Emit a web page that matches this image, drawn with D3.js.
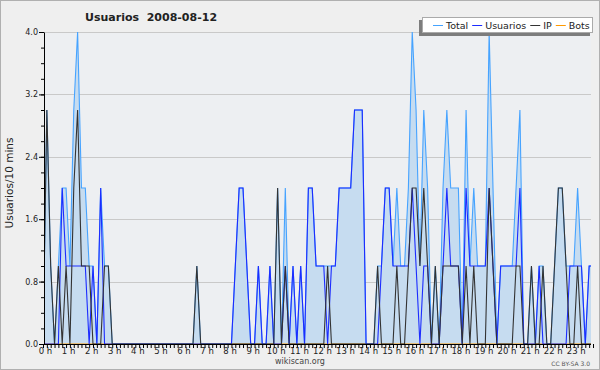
<!DOCTYPE html>
<html>
<head>
<meta charset="utf-8">
<script src="https://cdn.jsdelivr.net/npm/d3@7"></script>
<style>
body { margin: 0; background: #efefef; }
text { font-family: "DejaVu Sans", sans-serif; }
</style>
</head>
<body>
<svg id="chart" width="600" height="370"></svg>
<script>
// 10 minute slots, 0h00 .. 23h50
const hourLabels = ['0 h', '1 h', '2 h', '3 h', '4 h', '5 h', '6 h', '7 h', '8 h', '9 h', '10 h', '11 h',
  '12 h', '13 h', '14 h', '15 h', '16 h', '17 h', '18 h', '19 h', '20 h', '21 h', '22 h', '23 h']
const yTicks = [0, 0.8, 1.6, 2.4, 3.2, 4.0]

const total = [
  0, 3, 1, 0, 1, 2, 2, 1, 3, 4, 2, 2,
  1, 1, 0, 2, 1, 1, 0, 0, 0, 0, 0, 0,
  0, 0, 0, 0, 0, 0, 0, 0, 0, 0, 0, 0,
  0, 0, 0, 0, 1, 0, 0, 0, 0, 0, 0, 0,
  0, 0, 1, 2, 2, 1, 0, 0, 1, 0, 0, 1,
  0, 2, 0, 2, 0, 1, 0, 1, 0, 2, 2, 1,
  1, 1, 1, 1, 1, 2, 2, 2, 2, 3, 3, 3,
  0, 0, 0, 1, 1, 2, 2, 1, 2, 1, 1, 2,
  4, 3, 1, 3, 2, 0, 1, 0, 2, 3, 2, 2,
  2, 0, 3, 1, 2, 1, 1, 1, 4, 2, 0, 1,
  1, 1, 1, 2, 3, 0, 0, 1, 0, 1, 1, 0,
  0, 1, 2, 2, 1, 1, 1, 2, 1, 0, 1, 1
]
const usuarios = [
  0, 0, 0, 0, 0, 2, 1, 1, 1, 1, 1, 1,
  0, 1, 0, 2, 0, 0, 0, 0, 0, 0, 0, 0,
  0, 0, 0, 0, 0, 0, 0, 0, 0, 0, 0, 0,
  0, 0, 0, 0, 0, 0, 0, 0, 0, 0, 0, 0,
  0, 0, 1, 2, 2, 1, 0, 0, 1, 0, 0, 1,
  0, 0, 0, 1, 0, 1, 0, 1, 0, 2, 2, 1,
  1, 1, 0, 1, 1, 2, 2, 2, 2, 3, 3, 3,
  0, 0, 0, 0, 1, 2, 2, 1, 1, 1, 1, 1,
  2, 1, 0, 1, 1, 0, 0, 0, 1, 2, 1, 1,
  1, 0, 2, 1, 1, 1, 1, 1, 2, 1, 0, 1,
  1, 1, 1, 1, 2, 0, 0, 0, 0, 1, 0, 0,
  0, 0, 0, 0, 0, 1, 1, 1, 1, 0, 1, 1
]
const ip = [
  0, 3, 1, 0, 1, 0, 1, 0, 2, 3, 1, 1,
  1, 0, 0, 0, 1, 1, 0, 0, 0, 0, 0, 0,
  0, 0, 0, 0, 0, 0, 0, 0, 0, 0, 0, 0,
  0, 0, 0, 0, 1, 0, 0, 0, 0, 0, 0, 0,
  0, 0, 0, 0, 0, 0, 0, 0, 0, 0, 0, 0,
  0, 2, 0, 1, 0, 0, 0, 0, 0, 0, 0, 0,
  0, 0, 1, 0, 0, 0, 0, 0, 0, 0, 0, 0,
  0, 0, 0, 1, 0, 0, 0, 0, 1, 0, 0, 1,
  2, 2, 1, 2, 1, 0, 1, 0, 1, 1, 1, 1,
  1, 0, 1, 0, 1, 0, 0, 0, 2, 1, 0, 0,
  0, 0, 0, 1, 1, 0, 0, 1, 0, 0, 1, 0,
  0, 1, 2, 2, 1, 0, 0, 1, 0, 0, 0, 0
]
const bots = [
  0, 0, 0, 0, 0, 0, 0, 0, 0, 0, 0, 0,
  0, 0, 0, 0, 0, 0, 0, 0, 0, 0, 0, 0,
  0, 0, 0, 0, 0, 0, 0, 0, 0, 0, 0, 0,
  0, 0, 0, 0, 0, 0, 0, 0, 0, 0, 0, 0,
  0, 0, 0, 0, 0, 0, 0, 0, 0, 0, 0, 0,
  0, 0, 0, 0, 0, 0, 0, 0, 0, 0, 0, 0,
  0, 0, 0, 0, 0, 0, 0, 0, 0, 0, 0, 0,
  0, 0, 0, 0, 0, 0, 0, 0, 0, 0, 0, 0,
  0, 0, 0, 0, 0, 0, 0, 0, 0, 0, 0, 0,
  0, 0, 0, 0, 0, 0, 0, 0, 0, 0, 0, 0,
  0, 0, 0, 0, 0, 0, 0, 0, 0, 0, 0, 0,
  0, 0, 0, 0, 0, 0, 0, 0, 0, 0, 0, 0
]
const seriesNames = ['Total', 'Usuarios', 'IP', 'Bots']
const seriesColors = ['#46a3ff', '#1c2cff', '#333333', '#ff9a00']

const svg = d3.select('#chart')
const plotL = 44, plotR = 591, plotT = 32, plotB = 344

const x = d3.scaleLinear().domain([0, total.length - 1]).range([43, 593])
const y = d3.scaleLinear().domain([0, 4]).range([plotB, plotT])

// page frame
svg.append('rect').attr('x', 0.5).attr('y', 0.5).attr('width', 599).attr('height', 369)
  .attr('fill', '#efefef').attr('stroke', '#b0b0b0')
svg.append('rect').attr('x', plotL).attr('y', plotT).attr('width', plotR - plotL).attr('height', plotB - plotT)
  .attr('fill', '#edeff2')

svg.append('defs').append('clipPath').attr('id', 'plot')
  .append('rect').attr('x', plotL).attr('y', plotT - 2).attr('width', plotR - plotL).attr('height', plotB - plotT + 3)

// grid
svg.append('g').selectAll('line').data(yTicks.slice(1)).join('line')
  .attr('x1', plotL).attr('x2', plotR)
  .attr('y1', d => Math.round(y(d)) + 0.5).attr('y2', d => Math.round(y(d)) + 0.5)
  .attr('stroke', '#c9c9c9')

const plot = svg.append('g').attr('clip-path', 'url(#plot)')

const area = d3.area().x((d, i) => x(i)).y0(y(0)).y1(d => y(d))
plot.append('path').datum(total).attr('d', area).attr('fill', '#c6dcf0')

const line = d3.line().x((d, i) => x(i)).y(d => y(d))
const drawOrder = [[bots, 3], [total, 0], [usuarios, 1], [ip, 2]]
drawOrder.forEach(([values, k]) => {
  plot.append('path').datum(values).attr('d', line)
    .attr('fill', 'none').attr('stroke', seriesColors[k]).attr('stroke-width', 1.1)
})

// y axis
const yAxis = svg.append('g').attr('transform', `translate(${plotL},0)`)
yAxis.call(d3.axisLeft(y).tickValues(d3.range(0, 4.01, 0.2)).tickSize(3).tickSizeOuter(0).tickFormat(''))
yAxis.append('g').call(d3.axisLeft(y).tickValues(yTicks).tickSize(5).tickPadding(1).tickFormat(d3.format('.1f')))
yAxis.selectAll('text').attr('font-size', 8).attr('fill', '#222').attr('font-family', 'DejaVu Sans')
yAxis.selectAll('path,line').attr('stroke', '#000')
yAxis.selectAll('g > g > .domain').remove()

// x axis
const xAxis = svg.append('g').attr('transform', `translate(0,${plotB})`)
xAxis.call(d3.axisBottom(x).tickValues(d3.range(0, total.length)).tickSize(4).tickSizeOuter(0).tickFormat(''))
xAxis.select('.domain').attr('d', `M${plotL},0.5H${plotR}`)
xAxis.append('g').call(d3.axisBottom(x).tickValues(d3.range(0, total.length, 6)).tickSize(0).tickPadding(4)
  .tickFormat(i => hourLabels[i / 6]))
xAxis.selectAll('g > g > .domain').remove()
xAxis.selectAll('text').attr('font-size', 8.5).attr('fill', '#222').attr('dx', 2)
  .attr('font-family', 'DejaVu Sans')
xAxis.selectAll('path,line').attr('stroke', '#000')

// titles
svg.append('text').attr('x', 85).attr('y', 21).text('Usuarios  2008-08-12')
  .style('white-space', 'pre').attr('font-size', 11).attr('font-weight', 'bold').attr('fill', '#222')
svg.append('text').attr('transform', 'translate(13,183) rotate(-90)').attr('text-anchor', 'middle')
  .attr('font-size', 10.5).attr('fill', '#222').text('Usuarios/10 mins')
svg.append('text').attr('x', 300).attr('y', 364).attr('text-anchor', 'middle')
  .attr('font-size', 8).attr('fill', '#444').text('wikiscan.org')
svg.append('text').attr('x', 590).attr('y', 366).attr('text-anchor', 'end')
  .attr('font-size', 6).attr('fill', '#555').text('CC BY-SA 3.0')

// legend
const lg = svg.append('g')
lg.append('rect').attr('x', 419).attr('y', 20).attr('width', 171).attr('height', 16).attr('fill', '#7d7d7d')
lg.append('rect').attr('x', 422.5).attr('y', 17.5).attr('width', 170).attr('height', 15)
  .attr('fill', '#fff').attr('stroke', '#aaa')
let lx = 433
seriesNames.forEach((name, k) => {
  lg.append('line').attr('x1', lx).attr('x2', lx + 10).attr('y1', 25.5).attr('y2', 25.5)
    .attr('stroke', seriesColors[k])
  const t = lg.append('text').attr('x', lx + 13).attr('y', 29).attr('font-size', 9.5)
    .attr('fill', '#222').text(name)
  lx += 13 + t.node().getComputedTextLength() + 4
})
</script>
</body>
</html>
